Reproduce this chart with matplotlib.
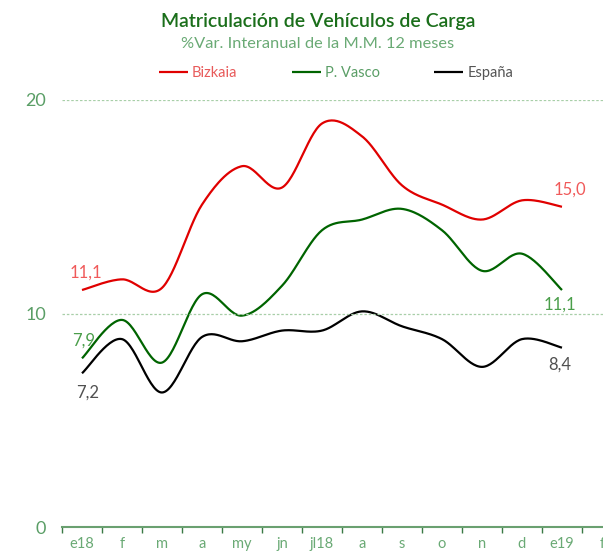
import matplotlib
matplotlib.use('Agg')
import matplotlib.pyplot as plt
import numpy as np

plt.rcParams['font.family'] = ['Lato', 'DejaVu Sans']

months = ['e18', 'f', 'm', 'a', 'my', 'jn', 'jl18', 'a', 's', 'o', 'n', 'd', 'e19', 'f']
bizkaia = [11.1, 11.6, 11.2, 15.1, 16.9, 15.9, 18.9, 18.3, 16.0, 15.1, 14.4, 15.3, 15.0]
pvasco = [7.9, 9.7, 7.7, 10.9, 9.9, 11.3, 13.9, 14.4, 14.9, 13.9, 12.0, 12.8, 11.1]
espana = [7.2, 8.8, 6.3, 8.9, 8.7, 9.2, 9.2, 10.1, 9.4, 8.8, 7.5, 8.8, 8.4]


def smooth(y, n=30):
    # bezier smoothing like spreadsheet "smoothed line"
    y = np.asarray(y, float)
    x = np.arange(len(y), dtype=float)
    xs, ys = [], []
    for i in range(len(y) - 1):
        p0 = np.array([x[max(i - 1, 0)], y[max(i - 1, 0)]])
        p1 = np.array([x[i], y[i]])
        p2 = np.array([x[i + 1], y[i + 1]])
        p3 = np.array([x[min(i + 2, len(y) - 1)], y[min(i + 2, len(y) - 1)]])
        c1 = p1 + (p2 - p0) / 6
        c2 = p2 - (p3 - p1) / 6
        t = np.linspace(0, 1, n)[:, None]
        pts = (1 - t) ** 3 * p1 + 3 * (1 - t) ** 2 * t * c1 + 3 * (1 - t) * t ** 2 * c2 + t ** 3 * p2
        xs.extend(pts[:, 0])
        ys.extend(pts[:, 1])
    return xs, ys


fig = plt.figure(figsize=(6.03, 5.53), dpi=100)
ax = fig.add_axes([62 / 603, 26 / 553, 1 - 62 / 603, 427 / 553])

for vals, col, lab in [(bizkaia, '#e00000', 'Bizkaia'), (pvasco, '#006400', 'P. Vasco'), (espana, '#000000', 'España')]:
    sx, sy = smooth(vals)
    ax.plot(sx, sy, color=col, lw=1.6, label=lab, solid_capstyle='butt')

ax.set_xlim(-0.5, 13.025)
ax.set_ylim(0, 20)

for s in ['left', 'right', 'top']:
    ax.spines[s].set_visible(False)
ax.spines['bottom'].set_color('#6aa070')
ax.spines['bottom'].set_linewidth(1.5)

ax.set_yticks([0, 10, 20])
ax.set_yticklabels(['0', '10', '20'], color='#5a9e66', fontsize=13)
ax.tick_params(axis='y', length=0, pad=11.5)
for yv in [10, 20]:
    ax.axhline(yv, color='#a8cfa8', lw=0.9, ls=(0, (2, 1.5)))

ax.set_xticks(range(len(months)))
ax.set_xticklabels(months, color='#6aaa75', fontsize=10.5)
ax.tick_params(axis='x', which='major', length=0, pad=7)
ax.set_xticks(np.arange(-0.5, 13.5, 1), minor=True)
ax.tick_params(axis='x', which='minor', length=4, color='#3a7a45', width=1)

lab_kw = dict(fontsize=12, ha='center', va='center')
ax.text(0.1, 11.9, '11,1', color='#f05a5a', **lab_kw)
ax.text(0.05, 8.75, '7,9', color='#4a9e4a', **lab_kw)
ax.text(0.15, 6.3, '7,2', color='#505050', **lab_kw)
ax.text(12.2, 15.8, '15,0', color='#f05a5a', **lab_kw)
ax.text(11.95, 10.4, '11,1', color='#4a9e4a', **lab_kw)
ax.text(11.95, 7.6, '8,4', color='#505050', **lab_kw)

fig.text(318 / 603, 1 - 22 / 553, 'Matriculación de Vehículos de Carga', color='#1a6e1a',
         fontsize=14, fontweight='semibold', ha='center', va='center')
fig.text(318 / 603, 1 - 44 / 553, '%Var. Interanual de la M.M. 12 meses', color='#6aaa75',
         fontsize=11.8, ha='center', va='center')

leg = fig.legend(loc='center', bbox_to_anchor=(336 / 603, 1 - 73 / 553), ncol=3, frameon=False,
                 fontsize=10.5, handlelength=2.0, handletextpad=0.3, columnspacing=3.7)
for t, c in zip(leg.get_texts(), ['#e85a5a', '#5a9e66', '#555555']):
    t.set_color(c)

fig.savefig('out.png', dpi=100)
